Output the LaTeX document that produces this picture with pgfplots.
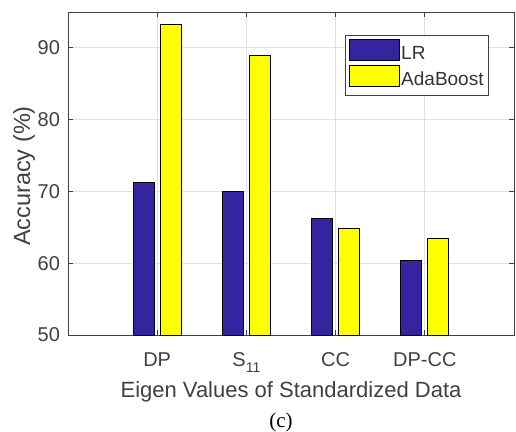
\documentclass[border=0pt]{standalone}
\usepackage{fontspec}
\setmainfont{Liberation Sans}
\newfontfamily\seriffont{Liberation Serif}
\usepackage{pgfplots}
\pgfplotsset{compat=1.18}
\definecolor{lrblue}{RGB}{52,36,160}
\definecolor{adayellow}{RGB}{255,255,0}
\definecolor{axgray}{RGB}{64,64,64}
\definecolor{gridgray}{RGB}{225,225,225}
\begin{document}
\begin{tikzpicture}
\path[use as bounding box] (-68pt,-96pt) rectangle (448pt,335pt);
\begin{axis}[
  at={(0,0)}, anchor=south west,
  scale only axis, width=446pt, height=323pt,
  xmin=0, xmax=5, ymin=50, ymax=95,
  xtick={1,2,3,4},
  xticklabels={DP, S\raisebox{-6pt}{\fontsize{14}{14}\selectfont 11}, CC, DP-CC},
  ytick={50,60,70,80,90},
  ybar=6pt, bar width=21pt,
  tick align=inside, tick pos=both, major tick length=5pt,
  axis line style={axgray, line width=0.8pt},
  tick style={axgray, line width=0.8pt},
  grid=major, grid style={gridgray, line width=0.8pt},
  /pgf/number format/assume math mode=true,
  ticklabel style={font=\fontsize{20}{24}\selectfont, text=axgray},
  xticklabel style={anchor=base, yshift=-31pt},
  yticklabel style={anchor=east, xshift=-4.5pt},
  xlabel={Eigen Values of Standardized Data},
  xlabel style={at={(axis description cs:0.5,-0.192)}, anchor=base, font=\fontsize{22}{26}\selectfont, text=axgray},
  ylabel={Accuracy (\%)},
  ylabel style={at={(axis description cs:-0.0987,0.492)}, anchor=center, font=\fontsize{23.5}{27}\selectfont, text=axgray},
  legend style={at={(axis description cs:1,1)}, anchor=north east, xshift=-25pt, yshift=-23pt,
    draw=axgray, line width=0.8pt, inner xsep=4pt, inner ysep=4pt, row sep=0pt,
    font=\fontsize{19}{23}\selectfont, text=black!80,
    nodes={inner sep=1pt, text height=16pt, text depth=5pt},
    /tikz/every even column/.append style={column sep=3pt}},
  legend cell align=left,
  legend image code/.code={\draw[#1,/tikz/.cd,draw=black,line width=0.8pt] (-8pt,-7pt) rectangle (42pt,14pt);},
]
\addplot[fill=lrblue, draw=black, line width=0.8pt] coordinates {(1,71.25) (2,70.0) (3,66.3) (4,60.4)};
\addplot[fill=adayellow, draw=black, line width=0.8pt] coordinates {(1,93.3) (2,88.9) (3,64.8) (4,63.4)};
\legend{LR, AdaBoost}
\end{axis}
\node[anchor=base, font=\seriffont\fontsize{21}{21}\selectfont] at (213pt,-92pt) {(c)};
\end{tikzpicture}
\end{document}
